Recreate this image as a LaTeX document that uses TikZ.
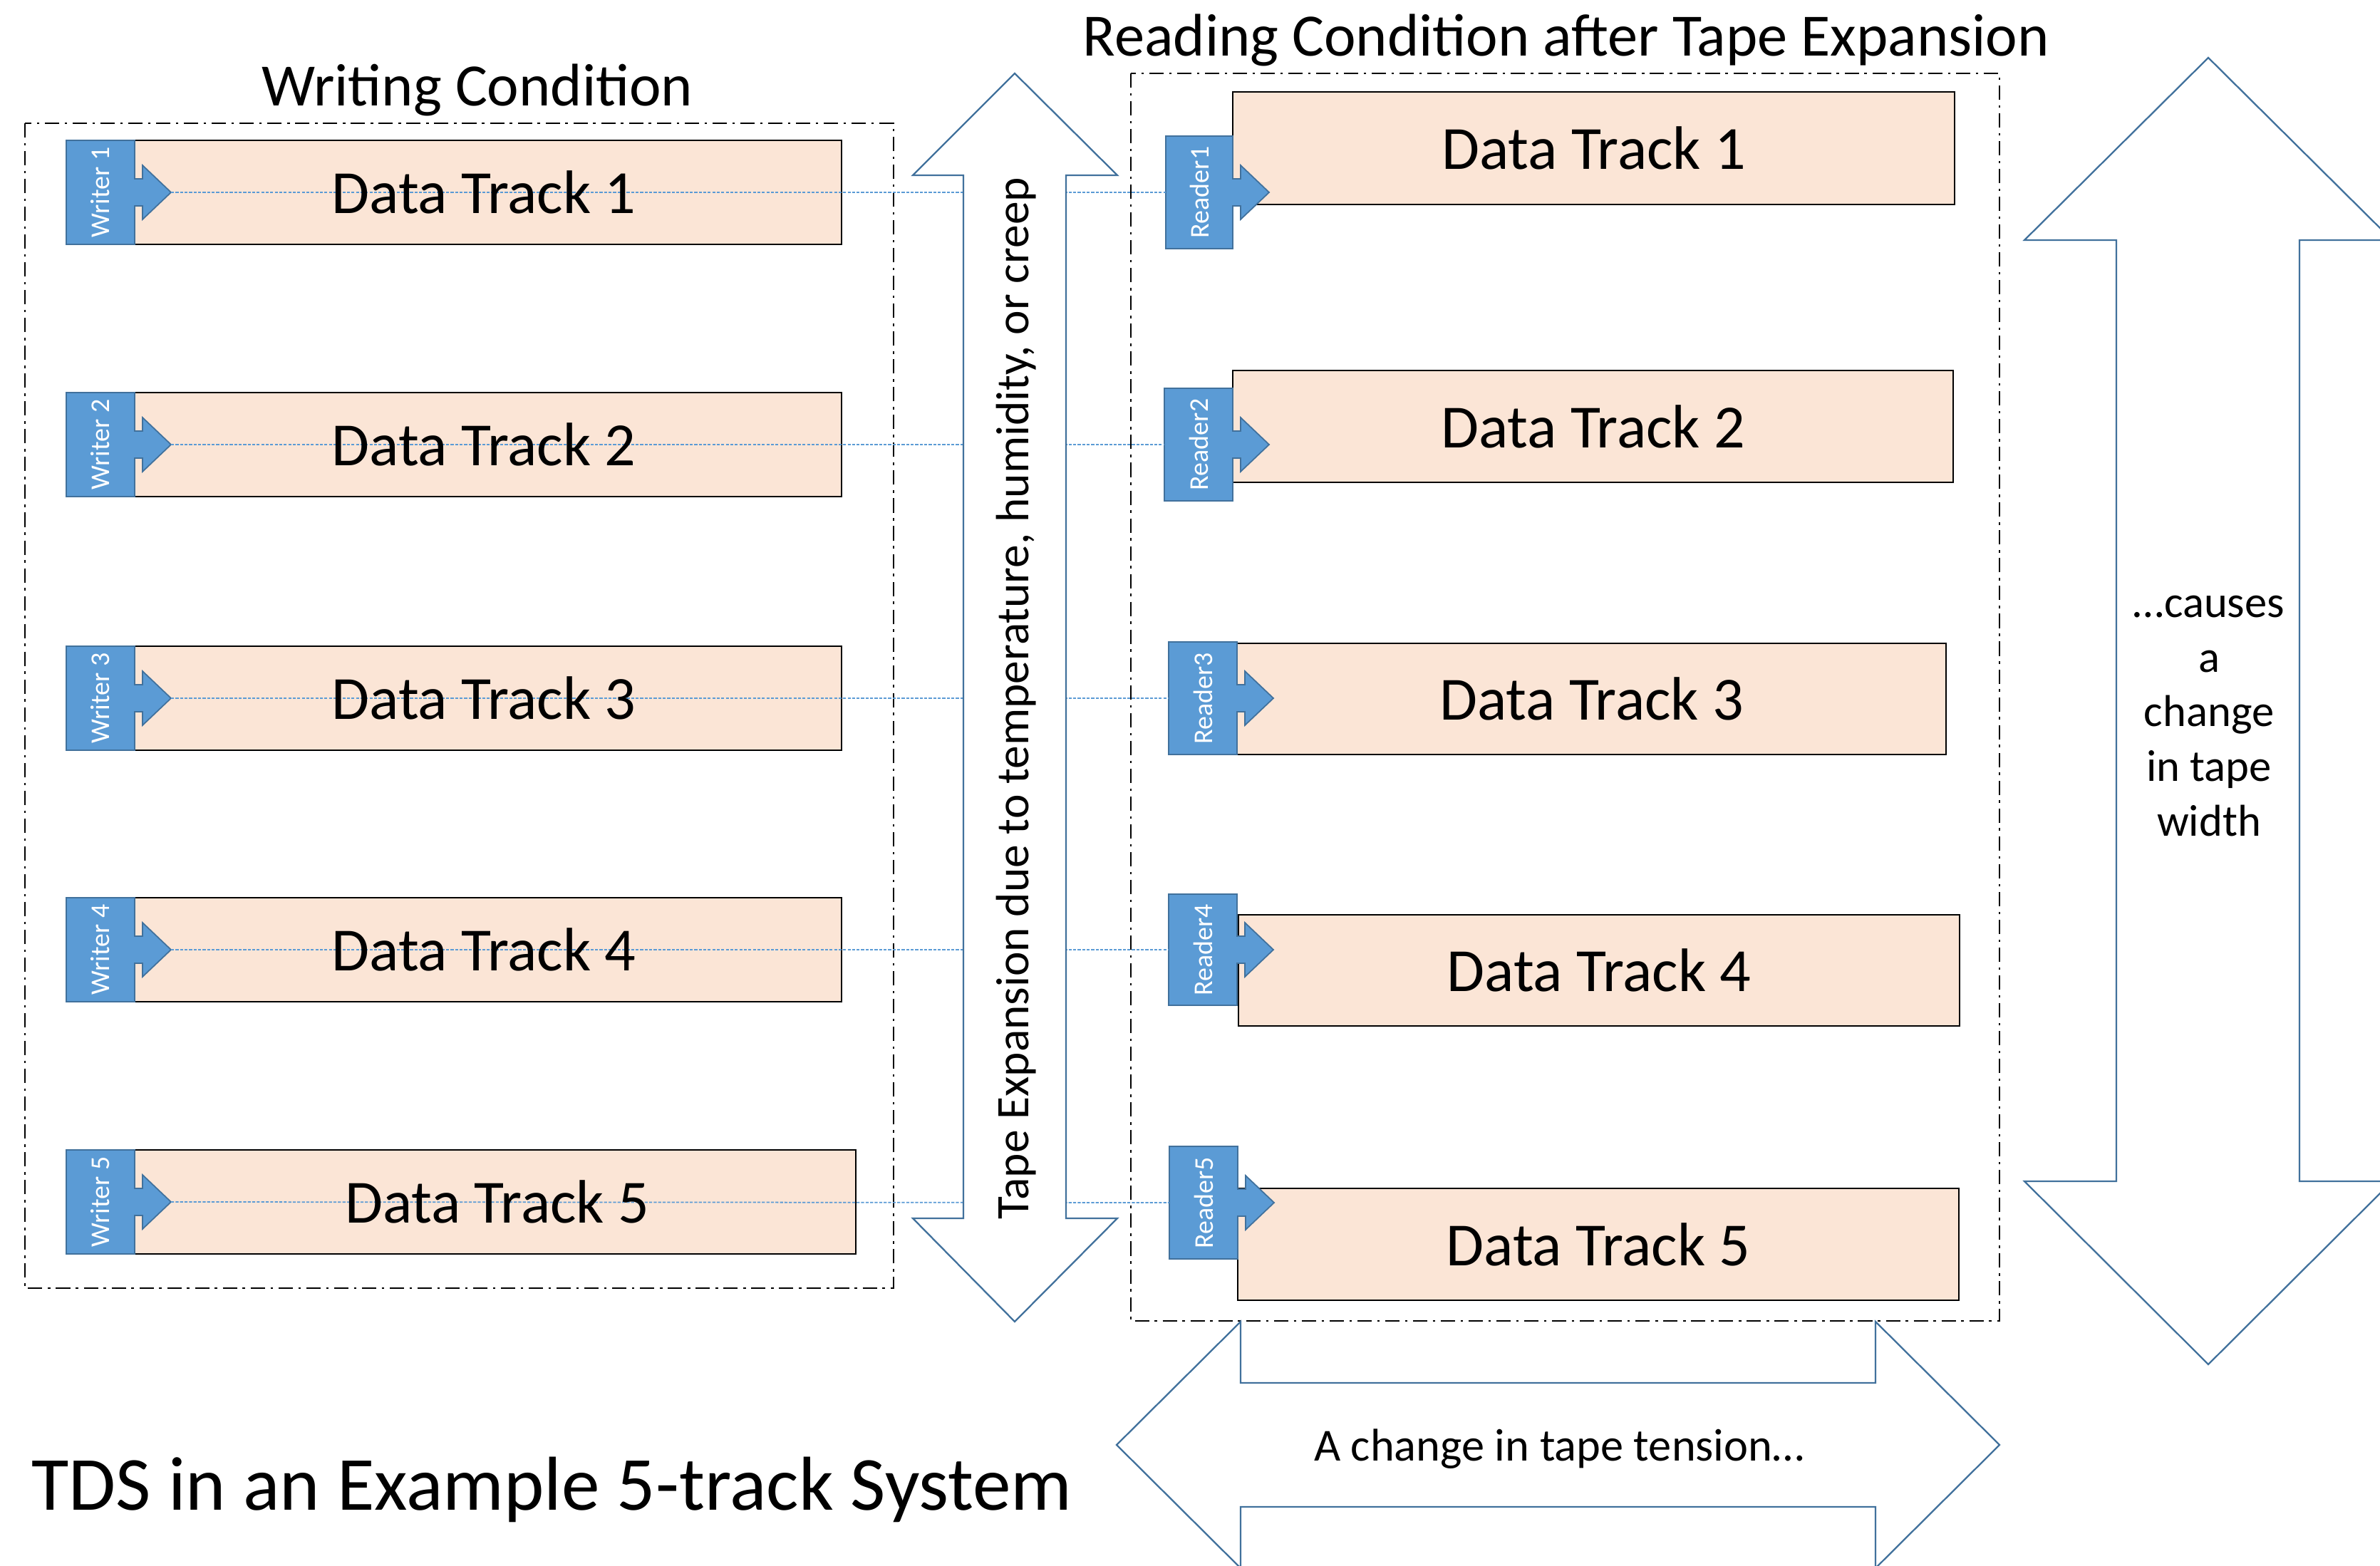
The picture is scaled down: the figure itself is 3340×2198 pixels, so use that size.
\documentclass[tikz,border=0pt]{standalone}
\usepackage{fontspec}
\setmainfont{Carlito}
\definecolor{peach}{HTML}{FBE5D6}
\definecolor{hblue}{HTML}{5B9BD5}
\definecolor{hedge}{HTML}{41719C}
\definecolor{aedge}{HTML}{41719C}
\newcommand\rwhead[6]{%
  \draw[headbox] (#1,{#3-#4/2}) -- (#2,{#3-#4/2}) -- (#2,{#3-19}) -- ({#2+11},{#3-19}) -- ({#2+11},{#3-38}) -- ({#2+51},#3) -- ({#2+11},{#3+38}) -- ({#2+11},{#3+19}) -- (#2,{#3+19}) -- (#2,{#3+#4/2}) -- (#1,{#3+#4/2}) -- cycle;
  \node[headlabel] (#6) at ({(#1+#2)/2},#3) {#5};
  \coordinate (#6tip) at ({#2+51},#3);
  \coordinate (#6in) at (#1,#3);
}
\begin{document}
\begin{tikzpicture}[x=0.01cm,y=-0.01cm,
  frame/.style={draw=black, line width=0.65pt, dash pattern=on 5.7pt off 2.2pt on 1pt off 2.2pt},
  track/.style={draw=black, line width=0.65pt, fill=peach, inner sep=0},
  headbox/.style={draw=hedge, line width=0.5pt, fill=hblue, line join=miter},
  headlabel/.style={text=white, rotate=90, inner sep=0, font=\fontsize{10.8}{12}\selectfont},
  trackline/.style={draw=hblue, line width=0.5pt, dash pattern=on 1.2pt off 0.6pt},
  bigarrow/.style={draw=aedge, line width=0.65pt, fill=white, line join=miter},
  big/.style={inner sep=0, font=\fontsize{24.5}{29}\selectfont},
  ttl/.style={inner sep=0, font=\fontsize{24}{29}\selectfont},
  mid/.style={inner sep=0, font=\fontsize{17.8}{21.8}\selectfont},
  huge/.style={inner sep=0, font=\fontsize{30.5}{36}\selectfont}]
\useasboundingbox (0,0) rectangle (3340,2198);

% frames
\draw[frame] (35,173) rectangle (1254,1808);
\draw[frame] (1587,103) rectangle (2806,1854);

% writing tracks
\foreach \i/\y in {1/270,2/624,3/980,4/1333}
  \node[track, minimum width=9.92cm, minimum height=1.46cm] (wt\i) at (685,\y) {};
\node[track, minimum width=10.13cm, minimum height=1.46cm] (wt5) at (694.5,1687) {};

% reading tracks
\node[track, minimum width=10.13cm, minimum height=1.58cm] (rt1) at (2236.5,208) {};
\node[track, minimum width=10.11cm, minimum height=1.57cm] (rt2) at (2235.5,598.5) {};
\node[track, minimum width=9.95cm, minimum height=1.56cm] (rt3) at (2233.5,981) {};
\node[track, minimum width=10.12cm, minimum height=1.56cm] (rt4) at (2244,1362) {};
\node[track, minimum width=10.12cm, minimum height=1.57cm] (rt5) at (2243,1746.5) {};

% writers
\rwhead{93}{189}{270}{146}{Writer 1}{w1}
\rwhead{93}{189}{624}{146}{Writer 2}{w2}
\rwhead{93}{189}{980}{146}{Writer 3}{w3}
\rwhead{93}{189}{1333}{146}{Writer 4}{w4}
\rwhead{93}{189}{1687}{146}{Writer 5}{w5}

% readers
\rwhead{1636}{1730}{270}{158}{Reader1}{r1}
\rwhead{1634}{1730}{624}{158}{Reader2}{r2}
\rwhead{1640}{1736}{980}{158}{Reader3}{r3}
\rwhead{1640}{1736}{1333}{156}{Reader4}{r4}
\rwhead{1641}{1737}{1688}{158}{Reader5}{r5}

% track centre lines
\foreach \i in {1,...,5}
  \draw[trackline] (w\i tip) -- (r\i in);

% middle double arrow
\draw[bigarrow] (1424,103) -- (1568,246) -- (1496,246) -- (1496,1710) -- (1568,1710) -- (1424,1855) -- (1281,1710) -- (1352,1710) -- (1352,246) -- (1281,246) -- cycle;
\node[mid, rotate=90, font=\fontsize{18.6}{22}\selectfont] (exp) at (1426,980) {Tape Expansion due to temperature, humidity, or creep};

% right double arrow
\draw[bigarrow] (3099,81) -- (3357,337) -- (3227,337) -- (3227,1658) -- (3357,1658) -- (3099,1915) -- (2841,1658) -- (2970,1658) -- (2970,337) -- (2841,337) -- cycle;
\node[mid, align=center] (width) at (3100,1005) {…causes\\a\\change\\in tape\\width};

% bottom double arrow
\draw[bigarrow] (1567,2028) -- (1741,1855) -- (1741,1941) -- (2632,1941) -- (2632,1855) -- (2806,2028) -- (2632,2201) -- (2632,2115) -- (1741,2115) -- (1741,2201) -- cycle;
\node[mid, anchor=base, font=\fontsize{18.3}{22}\selectfont] (tension) at (2188,2050) {A change in tape tension…};

% track texts
\foreach \i in {1,...,4}
  \node[big] at ([xshift=-0.06cm]wt\i.center) {Data Track \i};
\node[big] at ([xshift=0.03cm]wt5.center) {Data Track 5};
\foreach \i in {1,...,5}
  \node[big] at (rt\i) {Data Track \i};

% titles
\node[ttl, anchor=base] (wtitle) at (670,149) {Writing Condition};
\node[ttl, anchor=base] (rtitle) at (2198,79) {Reading Condition after Tape Expansion};
\node[huge, anchor=base west] (caption) at (44,2119) {TDS in an Example 5-track System};
\end{tikzpicture}
\end{document}
